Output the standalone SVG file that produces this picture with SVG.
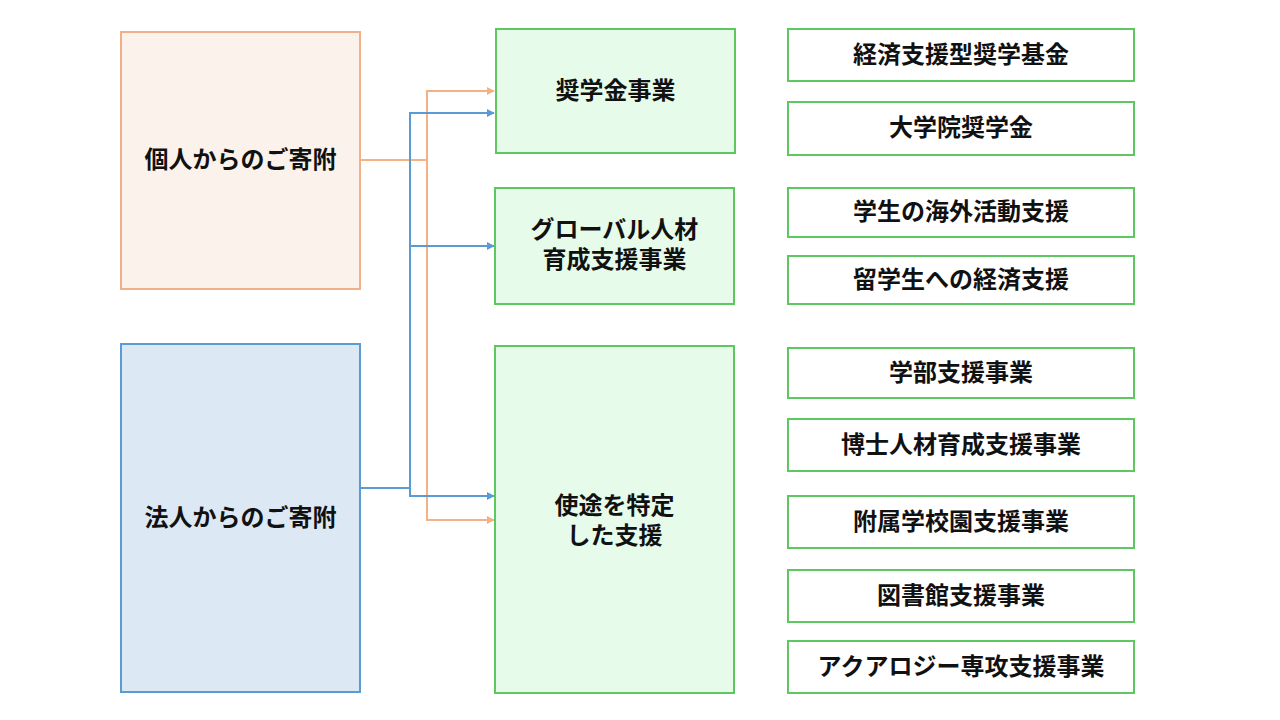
<svg xmlns="http://www.w3.org/2000/svg" width="1280" height="720" viewBox="0 0 1280 720">
<defs>
<style>
text{font-family:"Noto Sans CJK JP","Noto Sans CJK SC",sans-serif;font-weight:bold;font-size:24px;fill:#111;text-anchor:middle;dominant-baseline:central}
.org{fill:#FBF2EC;stroke:#F0B08C;stroke-width:2}
.blu{fill:#DDE8F5;stroke:#5B9BD5;stroke-width:2}
.grn{fill:#E6FBEA;stroke:#5CC85F;stroke-width:2}
.wht{fill:#FFFFFF;stroke:#5CC85F;stroke-width:2}
.co{fill:none;stroke:#F4B183;stroke-width:2}
.cb{fill:none;stroke:#5B9BD5;stroke-width:2}
</style>
<marker id="ao" viewBox="0 0 10 10" refX="9" refY="5" markerWidth="4" markerHeight="4" orient="auto" markerUnits="strokeWidth"><path d="M0,0L10,5L0,10z" fill="#F4B183"/></marker>
<marker id="ab" viewBox="0 0 10 10" refX="9" refY="5" markerWidth="4" markerHeight="4" orient="auto" markerUnits="strokeWidth"><path d="M0,0L10,5L0,10z" fill="#5B9BD5"/></marker>
</defs>
<rect width="1280" height="720" fill="#fff"/>
<g id="connectors">
<path class="co" d="M360,160H427V91H494" marker-end="url(#ao)"/>
<path class="co" d="M427,160V520H494" marker-end="url(#ao)"/>
<path class="cb" d="M360,488H410V113H494" marker-end="url(#ab)"/>
<path class="cb" d="M410,246H494" marker-end="url(#ab)"/>
<path class="cb" d="M410,488V496H494" marker-end="url(#ab)"/>
</g>
<g id="kojin"><rect class="org" x="121" y="32" width="239" height="257"/><text x="240.5" y="157">個人からのご寄附</text></g>
<g id="hojin"><rect class="blu" x="121" y="344" width="239" height="348"/><text x="240.5" y="515">法人からのご寄附</text></g>
<g id="shogakukin"><rect class="grn" x="496" y="29" width="239" height="124"/><text x="615.5" y="88">奨学金事業</text></g>
<g id="global"><rect class="grn" x="495" y="188" width="239" height="116"/><text x="614.5" y="227">グローバル人材</text><text x="614.5" y="257">育成支援事業</text></g>
<g id="shito"><rect class="grn" x="495" y="346" width="239" height="347"/><text x="614.5" y="503">使途を特定</text><text x="614.5" y="533">した支援</text></g>
<g id="r1"><rect class="wht" x="788" y="29" width="346" height="52"/><text x="961" y="52">経済支援型奨学基金</text></g>
<g id="r2"><rect class="wht" x="788" y="102" width="346" height="53"/><text x="961" y="125">大学院奨学金</text></g>
<g id="r3"><rect class="wht" x="788" y="188" width="346" height="49"/><text x="961" y="209">学生の海外活動支援</text></g>
<g id="r4"><rect class="wht" x="788" y="256" width="346" height="48"/><text x="961" y="277">留学生への経済支援</text></g>
<g id="r5"><rect class="wht" x="788" y="348" width="346" height="50"/><text x="961" y="370">学部支援事業</text></g>
<g id="r6"><rect class="wht" x="788" y="419" width="346" height="52"/><text x="961" y="442">博士人材育成支援事業</text></g>
<g id="r7"><rect class="wht" x="788" y="496" width="346" height="52"/><text x="961" y="519">附属学校園支援事業</text></g>
<g id="r8"><rect class="wht" x="788" y="570" width="346" height="52"/><text x="961" y="593">図書館支援事業</text></g>
<g id="r9"><rect class="wht" x="788" y="641" width="346" height="52"/><text x="961" y="664">アクアロジー専攻支援事業</text></g>
</svg>
